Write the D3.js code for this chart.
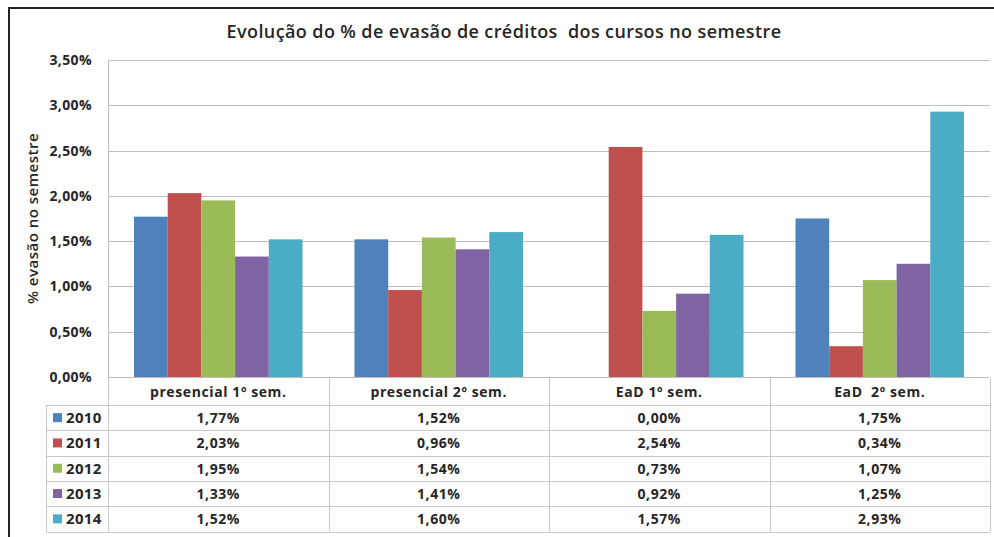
<!DOCTYPE html>
<html>
<head>
<meta charset="utf-8">
<script src="https://cdn.jsdelivr.net/npm/d3@7"></script>
<style>
  body { margin: 0; background: #fff; }
  svg { display: block; font-family: "Open Sans", Lato, sans-serif; }
  text { white-space: pre; }
</style>
</head>
<body>
<svg id="chart" width="994" height="537"></svg>
<script>
// data
const categories = ["presencial 1º sem.", "presencial 2º sem.", "EaD 1º sem.", "EaD  2º sem."];
const years = ["2010", "2011", "2012", "2013", "2014"];
const values2010 = [1.77, 1.52, 0.00, 1.75];
const values2011 = [2.03, 0.96, 2.54, 0.34];
const values2012 = [1.95, 1.54, 0.73, 1.07];
const values2013 = [1.33, 1.41, 0.92, 1.25];
const values2014 = [1.52, 1.60, 1.57, 2.93];
const yTicks = [0, 0.5, 1, 1.5, 2, 2.5, 3, 3.5];
const colors = ["#4F81BD", "#C0504D", "#9BBB59", "#8064A2", "#4BACC6"];

const seriesValues = [values2010, values2011, values2012, values2013, values2014];
const fmt = v => v.toFixed(2).replace(".", ",") + "%";

const svg = d3.select("#chart");
const plot = { left: 108, right: 990, top: 60, bottom: 377 };
const rowH = 25.3, headH = 27;
const legendLeft = 46;
const textColor = "#262626";

// outer frame (left + top edges visible)
svg.append("path")
    .attr("d", `M9,537 V8 H994`)
    .attr("fill", "none")
    .attr("stroke", "#222")
    .attr("stroke-width", 2);

// title
svg.append("text")
    .attr("x", 504).attr("y", 38)
    .attr("text-anchor", "middle")
    .attr("font-size", 18).attr("font-weight", 600)
    .attr("letter-spacing", 0.4)
    .attr("fill", textColor)
    .text("Evolução do % de evasão de créditos  dos cursos no semestre");

// scales
const x = d3.scaleBand().domain(categories).range([plot.left, plot.right]);
const xs = d3.scaleBand().domain(years)
    .range([26, x.bandwidth() - 26]);
const y = d3.scaleLinear().domain([0, 3.5]).range([plot.bottom, plot.top]);

// gridlines
svg.append("g").selectAll("line")
    .data(yTicks)
    .join("line")
    .attr("x1", plot.left).attr("x2", plot.right)
    .attr("y1", d => Math.round(y(d)) + 0.5).attr("y2", d => Math.round(y(d)) + 0.5)
    .attr("stroke", "#bdbdbd");

// y axis line
svg.append("line")
    .attr("x1", plot.left + 0.5).attr("x2", plot.left + 0.5)
    .attr("y1", plot.top).attr("y2", plot.bottom)
    .attr("stroke", "#bdbdbd");

// y tick labels
svg.append("g").selectAll("text")
    .data(yTicks)
    .join("text")
    .attr("x", 92).attr("y", d => y(d) + 5)
    .attr("text-anchor", "end")
    .attr("font-size", 14).attr("font-weight", "bold")
    .attr("letter-spacing", 0.4)
    .attr("fill", textColor)
    .text(fmt);

// y axis title
svg.append("text")
    .attr("transform", `translate(38,${(plot.top + plot.bottom) / 2}) rotate(-90)`)
    .attr("text-anchor", "middle")
    .attr("font-size", 15).attr("font-weight", 600)
    .attr("letter-spacing", 0.5)
    .attr("fill", textColor)
    .text("% evasão no semestre");

// bars
const groups = svg.append("g").selectAll("g")
    .data(categories)
    .join("g")
    .attr("transform", d => `translate(${x(d)},0)`);

groups.selectAll("rect")
    .data((c, ci) => years.map((yr, si) => ({ yr, si, v: seriesValues[si][ci] })))
    .join("rect")
    .attr("x", d => xs(d.yr))
    .attr("width", xs.bandwidth())
    .attr("y", d => y(d.v))
    .attr("height", d => y(0) - y(d.v))
    .attr("fill", d => colors[d.si]);

// data table
const tableTop = plot.bottom + 1;
const tableBottom = tableTop + headH + rowH * years.length;
const table = svg.append("g").attr("stroke", "#c8c8c8").attr("fill", "none");

// horizontal row lines
const rowLines = d3.range(years.length + 1).map(i => tableTop + headH + i * rowH);
table.selectAll("line.row")
    .data(rowLines)
    .join("line")
    .attr("class", "row")
    .attr("x1", legendLeft).attr("x2", plot.right)
    .attr("y1", d => Math.round(d) + 0.5).attr("y2", d => Math.round(d) + 0.5);

// vertical column lines
const colLines = categories.map(c => x(c)).concat([plot.right]);
table.selectAll("line.col")
    .data(colLines)
    .join("line")
    .attr("class", "col")
    .attr("x1", d => Math.round(d) + 0.5).attr("x2", d => Math.round(d) + 0.5)
    .attr("y1", tableTop).attr("y2", tableBottom);

table.append("line")
    .attr("x1", legendLeft + 0.5).attr("x2", legendLeft + 0.5)
    .attr("y1", tableTop + headH).attr("y2", tableBottom);

// header labels
svg.append("g").selectAll("text")
    .data(categories)
    .join("text")
    .attr("x", d => x(d) + x.bandwidth() / 2)
    .attr("y", tableTop + headH / 2 + 5)
    .attr("text-anchor", "middle")
    .attr("font-size", 14).attr("font-weight", "bold")
    .attr("letter-spacing", 0.6)
    .attr("fill", textColor)
    .text(d => d);

// legend keys + values
const rows = svg.append("g").selectAll("g")
    .data(years)
    .join("g")
    .attr("transform", (d, i) => `translate(0,${tableTop + headH + i * rowH + rowH / 2})`);

rows.append("rect")
    .attr("x", 53).attr("y", -4.5)
    .attr("width", 9).attr("height", 9)
    .attr("fill", (d, i) => colors[i]);

rows.append("text")
    .attr("x", 66).attr("y", 5.5)
    .attr("font-size", 15).attr("font-weight", "bold")
    .attr("letter-spacing", 0.3)
    .attr("fill", textColor)
    .text(d => d);

rows.selectAll("text.val")
    .data((yr, si) => categories.map((c, ci) => ({ c, v: seriesValues[si][ci] })))
    .join("text")
    .attr("class", "val")
    .attr("x", d => x(d.c) + x.bandwidth() / 2)
    .attr("y", 5.5)
    .attr("text-anchor", "middle")
    .attr("font-size", 14).attr("font-weight", "bold")
    .attr("letter-spacing", 0.6)
    .attr("fill", textColor)
    .text(d => fmt(d.v));
</script>
</body>
</html>
